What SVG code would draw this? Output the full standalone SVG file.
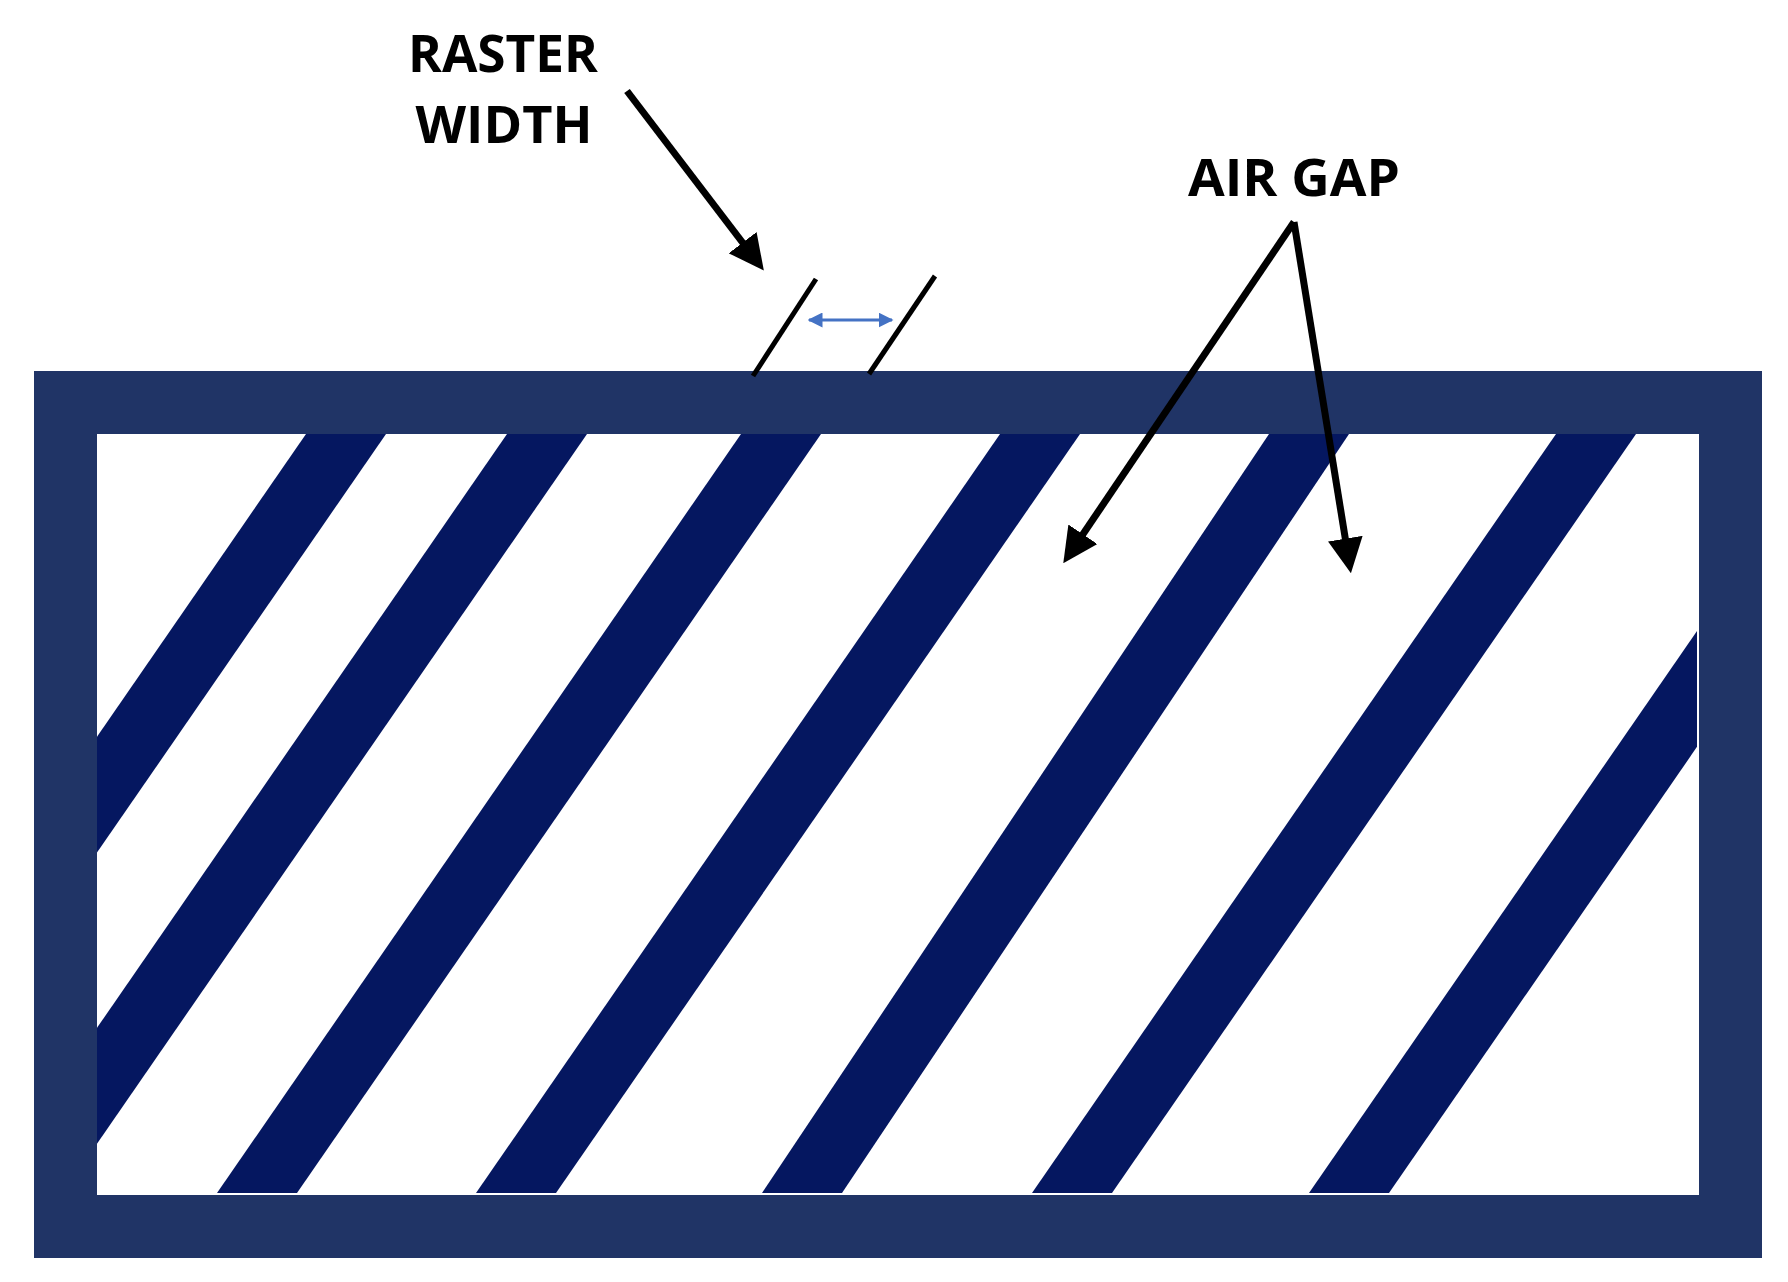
<svg xmlns="http://www.w3.org/2000/svg" width="1788" height="1282" viewBox="0 0 1788 1282">
<style>
.lbl{font-family:"Open Sans","Liberation Sans",sans-serif;font-weight:bold;font-size:52px;fill:#000;text-anchor:middle}
.stripe{fill:#051760}
.arr{stroke:#000;stroke-width:7;fill:none}
</style>
<defs>
<marker id="ah" viewBox="0 0 10 10" refX="3" refY="5" markerWidth="5" markerHeight="5" orient="auto" markerUnits="strokeWidth"><path d="M0,0 L10,5 L0,10 z" fill="#000"/></marker>
<marker id="bh" viewBox="0 0 10 10" refX="9" refY="5" markerWidth="5" markerHeight="5" orient="auto-start-reverse"><path d="M0,0 L10,5 L0,10 z" fill="#4472C4"/></marker>
<clipPath id="inner"><rect x="97" y="434" width="1600" height="759"/></clipPath>
</defs>
<rect width="1788" height="1282" fill="#fff"/>
<g id="stripes" clip-path="url(#inner)">
<polygon class="stripe" points="306,434 386,434 -138,1193 -218,1193"/>
<polygon class="stripe" points="507,434 587,434 63,1193 -17,1193"/>
<polygon class="stripe" points="741,434 821,434 297,1193 217,1193"/>
<polygon class="stripe" points="1000,434 1080,434 556,1193 476,1193"/>
<polygon class="stripe" points="1269,434 1349,434 842,1193 762,1193"/>
<polygon class="stripe" points="1556,434 1636,434 1112,1193 1032,1193"/>
<polygon class="stripe" points="1833,434 1913,434 1389,1193 1309,1193"/>
</g>
<g id="frame"><rect x="65.5" y="402.5" width="1665" height="824" fill="none" stroke="#203466" stroke-width="63"/></g>
<g id="raster-width">
<line x1="753" y1="376" x2="816" y2="279" stroke="#000" stroke-width="5"/>
<line x1="869" y1="374" x2="935" y2="276" stroke="#000" stroke-width="5"/>
<line x1="809" y1="320" x2="892" y2="320" stroke="#4472C4" stroke-width="3" marker-start="url(#bh)" marker-end="url(#bh)"/>
<text class="lbl" x="503" y="72" textLength="190" lengthAdjust="spacingAndGlyphs">RASTER</text>
<text class="lbl" x="504" y="143" textLength="177" lengthAdjust="spacingAndGlyphs">WIDTH</text>
</g>
<g id="air-gap">
<text class="lbl" x="1294" y="196" textLength="212" lengthAdjust="spacingAndGlyphs">AIR GAP</text>
</g>
<g id="connectors">
<line class="arr" x1="627" y1="91" x2="749" y2="251" marker-end="url(#ah)"/>
<line class="arr" x1="1294" y1="222" x2="1077" y2="543" marker-end="url(#ah)"/>
<line class="arr" x1="1294" y1="222" x2="1347" y2="549" marker-end="url(#ah)"/>
</g>
</svg>
